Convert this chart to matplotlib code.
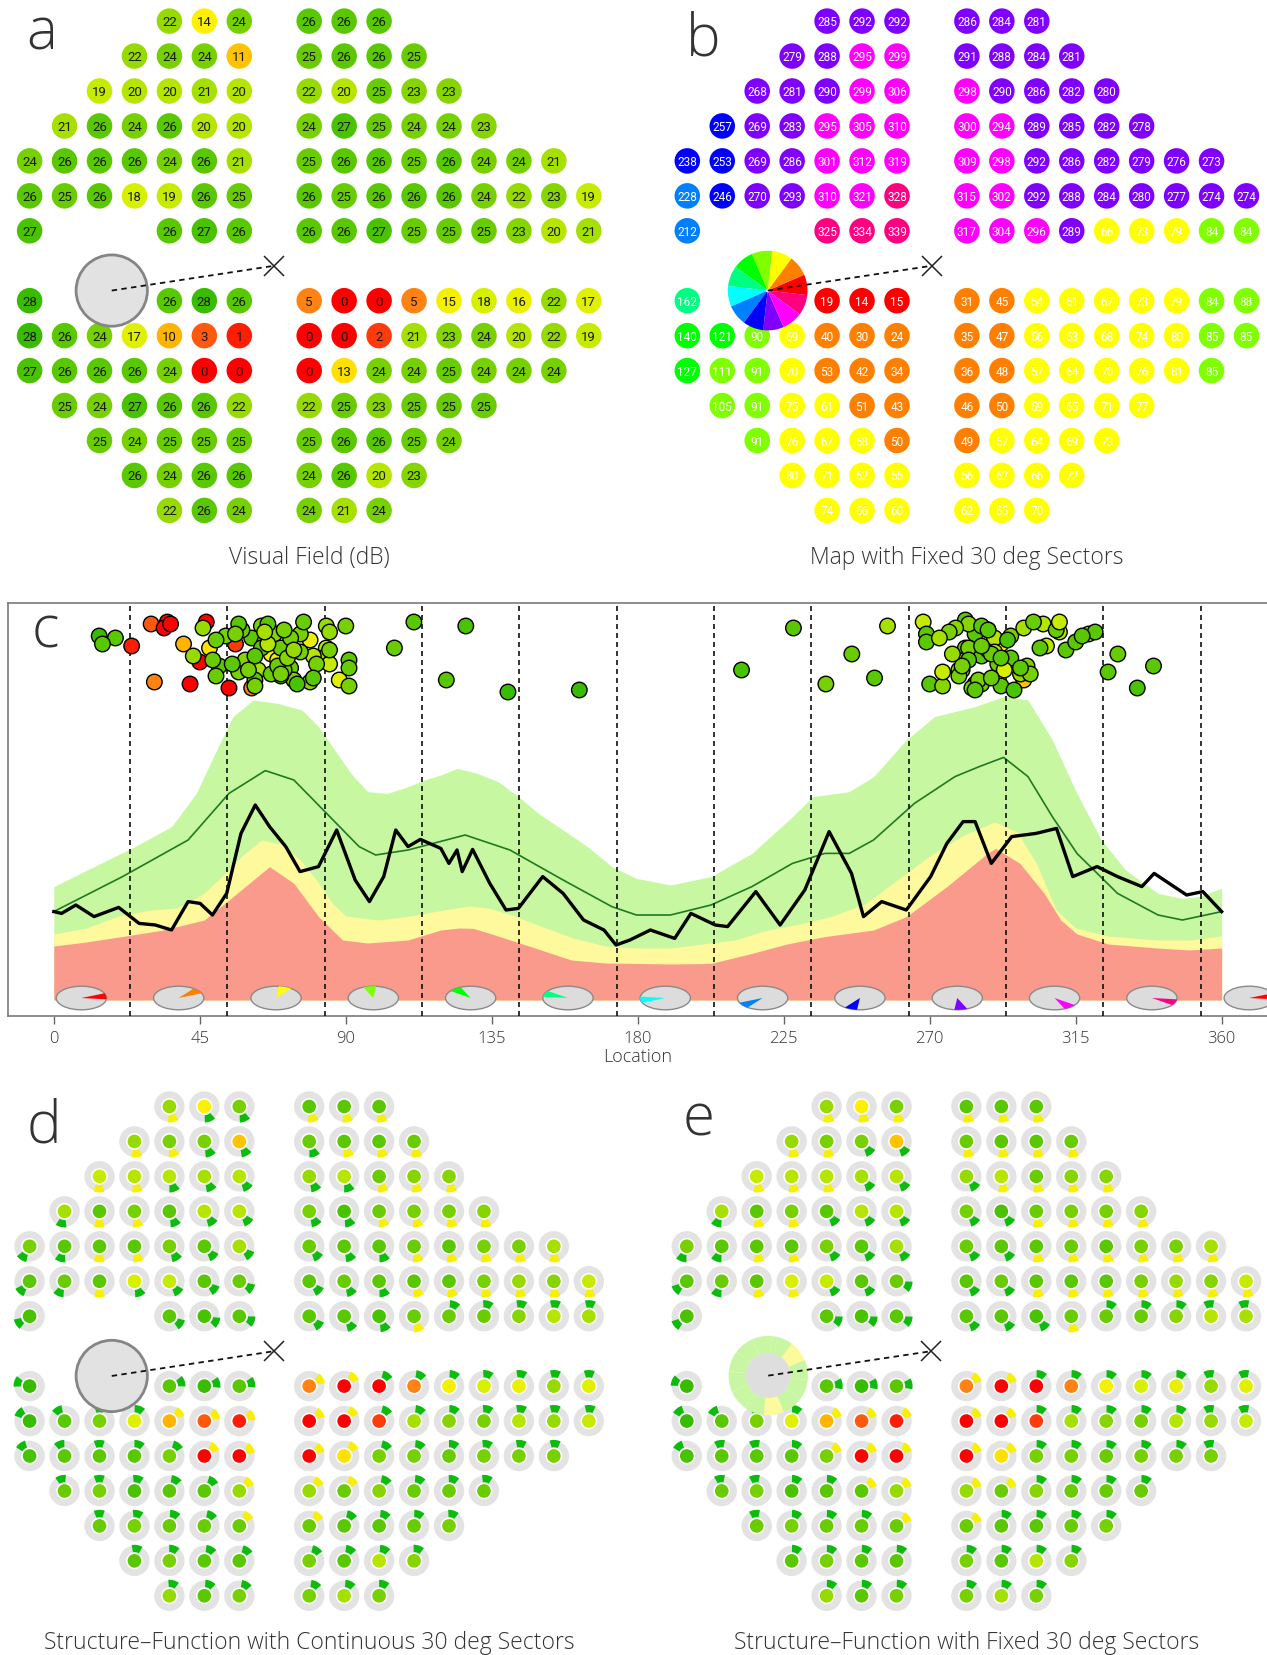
import numpy as np
import matplotlib.pyplot as plt
from matplotlib.colors import LinearSegmentedColormap, hsv_to_rgb
from matplotlib.patches import Circle, Wedge, Ellipse, Polygon

plt.rcParams['font.family'] = ['Open Sans', 'DejaVu Sans']
plt.rcParams['font.weight'] = 'light'
NUM_FONT = ['Roboto', 'DejaVu Sans']

W, H = 1267, 1655
STEP = 34.95          # px between neighbouring test locations
DEG = 3.244           # px per degree on the location axis

# ---------------- visual field test grid ----------------
# columns present in each row (column 7 and row 7 are the meridians)
grid_rows = [0, 1, 2, 3, 4, 5, 6, 8, 9, 10, 11, 12, 13, 14]
grid_cols = [
    [4, 5, 6, 8, 9, 10],
    [3, 4, 5, 6, 8, 9, 10, 11],
    [2, 3, 4, 5, 6, 8, 9, 10, 11, 12],
    [1, 2, 3, 4, 5, 6, 8, 9, 10, 11, 12, 13],
    [0, 1, 2, 3, 4, 5, 6, 8, 9, 10, 11, 12, 13, 14, 15],
    [0, 1, 2, 3, 4, 5, 6, 8, 9, 10, 11, 12, 13, 14, 15, 16],
    [0, 4, 5, 6, 8, 9, 10, 11, 12, 13, 14, 15, 16],
    [0, 4, 5, 6, 8, 9, 10, 11, 12, 13, 14, 15, 16],
    [0, 1, 2, 3, 4, 5, 6, 8, 9, 10, 11, 12, 13, 14, 15, 16],
    [0, 1, 2, 3, 4, 5, 6, 8, 9, 10, 11, 12, 13, 14, 15],
    [1, 2, 3, 4, 5, 6, 8, 9, 10, 11, 12, 13],
    [2, 3, 4, 5, 6, 8, 9, 10, 11, 12],
    [3, 4, 5, 6, 8, 9, 10, 11],
    [4, 5, 6, 8, 9, 10],
]

# sensitivity (dB) per row
sensitivity_db = [
    [22, 14, 24, 26, 26, 26],
    [22, 24, 24, 11, 25, 26, 26, 25],
    [19, 20, 20, 21, 20, 22, 20, 25, 23, 23],
    [21, 26, 24, 26, 20, 20, 24, 27, 25, 24, 24, 23],
    [24, 26, 26, 26, 24, 26, 21, 25, 26, 26, 25, 26, 24, 24, 21],
    [26, 25, 26, 18, 19, 26, 25, 26, 25, 26, 26, 26, 24, 22, 23, 19],
    [27, 26, 27, 26, 26, 26, 27, 25, 25, 25, 23, 20, 21],
    [28, 26, 28, 26, 5, 0, 0, 5, 15, 18, 16, 22, 17],
    [28, 26, 24, 17, 10, 3, 1, 0, 0, 2, 21, 23, 24, 20, 22, 19],
    [27, 26, 26, 26, 24, 0, 0, 0, 13, 24, 24, 25, 24, 24, 24],
    [25, 24, 27, 26, 26, 22, 22, 25, 23, 25, 25, 25],
    [25, 24, 25, 25, 25, 25, 26, 26, 25, 24],
    [26, 24, 26, 26, 24, 26, 20, 23],
    [22, 26, 24, 24, 21, 24],
]

# optic disc angle (deg) mapped to each location
location_angle = [
    [285, 292, 292, 286, 284, 281],
    [279, 288, 295, 299, 291, 288, 284, 281],
    [268, 281, 290, 299, 306, 298, 290, 286, 282, 280],
    [257, 269, 283, 295, 305, 310, 300, 294, 289, 285, 282, 278],
    [238, 253, 269, 286, 301, 312, 319, 309, 298, 292, 286, 282, 279, 276, 273],
    [228, 246, 270, 293, 310, 321, 328, 315, 302, 292, 288, 284, 280, 277, 274, 274],
    [212, 325, 334, 339, 317, 304, 296, 289, 66, 73, 79, 84, 84],
    [162, 19, 14, 15, 31, 45, 54, 61, 67, 73, 79, 84, 88],
    [140, 121, 90, 69, 40, 30, 24, 35, 47, 56, 63, 68, 74, 80, 85, 85],
    [127, 111, 91, 70, 53, 42, 34, 36, 48, 57, 64, 70, 76, 81, 85],
    [105, 91, 75, 61, 51, 43, 46, 50, 59, 65, 71, 77],
    [91, 76, 67, 58, 50, 49, 57, 64, 69, 73],
    [80, 71, 62, 55, 56, 62, 66, 72],
    [74, 66, 60, 62, 65, 70],
]

# vertical spread of the points in the location strip
strip_offset = [
    [186, 178, 170, 172, 183, 190],
    [165, 175, 182, 160, 168, 185, 158, 176],
    [189, 170, 181, 186, 177, 163, 174, 158, 188, 165],
    [187, 183, 156, 171, 188, 184, 167, 180, 173, 160, 176, 186],
    [158, 161, 179, 187, 163, 175, 183, 185, 166, 157, 177, 170, 162, 184, 181],
    [186, 173, 158, 165, 189, 184, 173, 179, 189, 171, 185, 155, 167, 173, 157, 164],
    [165, 164, 156, 167, 182, 176, 155, 161, 187, 166, 159, 176, 172],
    [155, 181, 182, 178, 159, 169, 156, 156, 173, 177, 180, 187, 160],
    [154, 160, 187, 170, 178, 188, 177, 189, 189, 178, 165, 183, 160, 172, 184, 168],
    [187, 189, 170, 162, 182, 158, 186, 188, 176, 164, 187, 176, 183, 168, 175],
    [176, 157, 158, 181, 167, 172, 186, 162, 170, 179, 165, 189],
    [166, 174, 163, 185, 180, 170, 188, 176, 167, 181],
    [161, 185, 172, 168, 183, 160, 178, 171],
    [175, 188, 165, 157, 184, 163],
]

# structure status in a continuous 30 deg window (G normal, Y borderline)
continuous_status = [
    "YGGYYY", "YYGGGYYY", "YYGGGGGYYY", "GYYGGGGGYYYY", "GGYYGGGGGGYYYYY",
    "GGYGGGGGGGYYYYYY", "GGGGGGGYGGGGG", "GGGGYYGGGGGGG", "GGGGYYYYYGGGGGGG",
    "GGGGGYYYYGGGGGG", "GGGGGYYYGGGG", "GGGGYYGGGG", "GGGGGGGG", "GGGGGG",
]

# status of the twelve fixed sectors (sector k centred on 8.5 + 30k deg)
sector_status = ['G', 'Y', 'G', 'G', 'G', 'G', 'G', 'G', 'G', 'Y', 'G', 'G']

# ---------------- RNFL profile along the disc ----------------
upper_x = [0, 12.4, 25, 36.3, 43.9, 50.2, 55.2, 61.5, 69, 76.5, 81.6, 86.6, 91.6, 96.7,
           102.9, 109.2, 114.3, 119.3, 124.3, 130.6, 136.9, 143.2, 149.4, 157, 164.5,
           172, 179.6, 190.1, 202.6, 215.2, 227.7, 234, 245.2, 252.7, 262.8, 271.5,
           284, 292.8, 300.3, 307.8, 315.4, 322.9, 330.4, 340.4, 347.9, 352.9, 360]
upper_y = [56.7, 66.7, 76.7, 86.7, 103.3, 125, 141.7, 150, 148.3, 145, 136.7, 125,
           113.3, 104.2, 103.3, 106.7, 110, 112.5, 115.8, 113.3, 109.2, 101.7, 93.3,
           85, 76.7, 66.7, 60.8, 57.5, 61.7, 73.3, 91.7, 101.7, 104.2, 111.7, 130,
           141.7, 146.7, 151.7, 150, 130, 103.3, 80, 65, 53.3, 50.8, 51.7, 55.8]

border_x = [0, 10, 20, 30, 38, 46, 52, 58, 64, 70, 76, 81, 86, 90, 100, 110, 120, 128,
            134, 142, 150, 160, 170, 180, 190, 200, 210, 220, 230, 240, 250, 260, 270,
            280, 290, 297, 303, 309, 315, 325, 340, 350, 360]
border_y = [33, 36, 42, 45, 46, 53, 62, 72, 80, 78, 70, 60, 48, 42, 40, 42, 45, 47,
            46, 42, 37, 31, 27, 26, 26, 28, 30, 35, 38, 42, 48, 60, 72, 82, 89, 84,
            68, 45, 36, 32, 30, 30, 32]

lower_x = [0, 10, 21, 33.8, 46.4, 54, 61.5, 66.5, 74, 81.6, 89, 96.7, 109.2, 119.3,
           125, 129.3, 134.4, 147, 159.5, 170, 179.6, 190, 202.6, 215.2, 226, 237.7,
           252.7, 262.8, 275.3, 287.8, 290.3, 297.8, 305.3, 310.4, 315.4, 325, 340,
           350, 360]
lower_y = [27, 29, 31.7, 35, 40, 50, 60, 66.7, 58.3, 41.7, 30, 28.5, 30, 35, 36,
           35.8, 33.3, 26.7, 20, 18.5, 18.3, 18, 18.3, 23.3, 28, 31.7, 35, 41.7, 56.7,
           73.3, 75.8, 68.3, 53.3, 40, 33, 28, 26, 25, 26]

median_x = [0, 21.2, 41.4, 54, 65.2, 74, 84.1, 94.1, 99.2, 109.2, 126.8, 140.6, 157,
            172, 179.6, 190.1, 202.6, 215.2, 227.7, 237.7, 245.2, 252.7, 265.3, 277.8,
            285.3, 292.8, 300.3, 307.8, 315.4, 327.9, 340.4, 347.9, 360]
median_y = [44.2, 61.7, 80, 103.3, 114.7, 110, 93.3, 76.7, 72.5, 75, 82.5, 75, 60,
            46.7, 42.5, 42.5, 47.5, 56.7, 68.3, 73.3, 73.3, 80, 98.3, 111.7, 116.7,
            121.3, 111.7, 91.7, 73.3, 53.3, 42.5, 40, 44.2]

patient_x = [0, 2.4, 6.8, 12.4, 20, 26.3, 31.3, 36.3, 41.4, 45.1, 48.9, 53.3, 57.7,
             62.1, 66.5, 71.5, 75.9, 81.6, 87.2, 92.9, 97.3, 101.7, 105.4, 109.2, 113,
             119.3, 121.8, 124.3, 125.9, 129.1, 134.4, 139.4, 143.2, 150.7, 157,
             163.3, 169.6, 173.3, 177.6, 183.9, 191.4, 196.4, 203.9, 207.7, 216.4,
             223.9, 231.5, 239, 245.9, 249.6, 255.2, 262.8, 270.3, 275.3, 280.3, 284,
             289, 295.3, 302.8, 309.1, 314.1, 321.6, 327.9, 335.4, 339.2, 349.2,
             354.2, 360]
patient_y = [44.2, 43.3, 47.5, 41.7, 46.3, 38.3, 37.5, 35, 49.2, 48.3, 42.5, 53.3,
             83.3, 97.5, 86.7, 76.7, 64.2, 66.7, 85, 60, 49.2, 61.7, 85, 76.7, 80.3,
             75.8, 68.3, 75, 64.2, 75.3, 58.3, 45, 45.8, 61.7, 53.3, 40, 35, 27.5, 30,
             35, 30.8, 43.3, 37.5, 36.7, 54.2, 37.5, 55, 84.2, 63.3, 41.7, 49.2, 45,
             61.7, 78.3, 89.2, 89.2, 68.3, 81.7, 83.3, 85.8, 61.7, 66.7, 61.7, 56.7,
             63.3, 52.5, 54.2, 44.2]

loc_ticks = [0, 45, 90, 135, 180, 225, 270, 315, 360]

# ---------------- styling ----------------
db_cmap = LinearSegmentedColormap.from_list('db', [
    (0 / 28, '#ff0000'), (3 / 28, '#ff5a10'), (5 / 28, '#ff8414'),
    (10 / 28, '#ffb400'), (14 / 28, '#fff000'), (18 / 28, '#d6f000'),
    (21 / 28, '#a6e000'), (24 / 28, '#78d000'), (26 / 28, '#5ac800'),
    (28 / 28, '#38bc00')])


def db_color(v):
    return db_cmap(min(v, 28) / 28)


def sector_of(angle):
    return (int(((angle - 23.5) % 360) // 30) + 1) % 12


def sector_color(k):
    return hsv_to_rgb([k / 12, 1.0, 1.0])


status_col = {'G': '#0cbc0c', 'Y': '#f7f000'}
ring_col = {'G': '#c8f6a2', 'Y': '#fdfa9c'}
TXT = '#333333'

fig = plt.figure(figsize=(W / 100, H / 100), dpi=100)


def grid_axes(left, top, right, bottom, col0, row0):
    ax = fig.add_axes([left / W, 1 - bottom / H, (right - left) / W, (bottom - top) / H])
    ax.set_xlim((left - col0) / STEP, (right - col0) / STEP)
    ax.set_ylim((bottom - row0) / STEP, (top - row0) / STEP)
    ax.axis('off')
    return ax


def points():
    for r, cols in enumerate(grid_cols):
        for i, c in enumerate(cols):
            yield r, i, c, grid_rows[r]


def fixation(ax, x0, y0):
    ax.plot([x0, 7], [y0, 7], ls=(0, (3, 2.4)), color='#111111', lw=1.3, zorder=6)
    ax.plot(7, 7, marker='x', ms=14, mew=1.1, color='#222222', zorder=6)


def panel_title(ax, text):
    ax.text(8, 15.35, text, fontsize=16.5, color=TXT, ha='center', va='center')


BS = (2.35, 7.71)

# ---- a: visual field sensitivities
ax_a = grid_axes(0, 0, 633, 575, 29.6, 21.1)
for r, i, c, row in points():
    v = sensitivity_db[r][i]
    ax_a.add_patch(Circle((c, row), 0.365, fc=db_color(v), ec='none'))
    ax_a.text(c, row, str(v), ha='center', va='center_baseline', fontsize=9.5,
              color='#1a1a1a', family=NUM_FONT, weight='normal')
ax_a.add_patch(Circle(BS, 1.02, fc='#e2e2e2', ec='#858585', lw=2, zorder=5))
fixation(ax_a, *BS)
ax_a.text(-0.09, 0.82, 'a', fontsize=42, color=TXT, ha='left', va='baseline')
panel_title(ax_a, 'Visual Field (dB)')

# ---- b: sector map
ax_b = grid_axes(633, 0, 1267, 575, 687.3, 21.1)
for r, i, c, row in points():
    a = location_angle[r][i]
    ax_b.add_patch(Circle((c, row), 0.365, fc=sector_color(sector_of(a)), ec='none'))
    ax_b.text(c, row, str(a), ha='center', va='center_baseline', fontsize=8.5,
              color='white', family=NUM_FONT, weight='normal')
wheel = (2.3, 7.71)
for k in range(12):
    mid = 8.5 + 30 * k
    ax_b.add_patch(Wedge(wheel, 1.14, -(mid + 15), -(mid - 15), fc=sector_color(k),
                         ec='none', zorder=5))
ax_b.add_patch(Circle(wheel, 0.05, fc='white', ec='none', zorder=6))
fixation(ax_b, *wheel)
ax_b.text(-0.04, 0.97, 'b', fontsize=42, color=TXT, ha='left', va='baseline')
panel_title(ax_b, 'Map with Fixed 30 deg Sectors')

# ---- c: thickness profile along the disc
c_left, c_top, c_right, c_bottom = 8.4, 603, 1293, 1016
ax_c = fig.add_axes([c_left / W, 1 - c_bottom / H, (c_right - c_left) / W,
                     (c_bottom - c_top) / H])
ax_c.set_xlim((c_left - 53.8) / DEG, (c_right - 53.8) / DEG)
ax_c.set_ylim(-8, 198.5)
ax_c.fill_between(upper_x, 0, upper_y, color='#c8f7a2', lw=0, zorder=1)
ax_c.fill_between(border_x, 0, border_y, color='#fdf99c', lw=0, zorder=1.1)
ax_c.fill_between(lower_x, 0, lower_y, color='#f99a8c', lw=0, zorder=1.2)
ax_c.plot(median_x, median_y, color='#1f7a1f', lw=1.2, zorder=3)
ax_c.plot(patient_x, patient_y, color='black', lw=2.4, zorder=3)
for k in range(12):
    ax_c.axvline(23.5 + 30 * k, color='#111111', lw=1.2, ls=(0, (3, 2.4)), zorder=3.5)
ex, ey = 7.75, 5.9
for k in range(13):
    mid = 8.5 + 30 * k
    ax_c.add_patch(Ellipse((mid, 1.0), 2 * ex, 2 * ey, fc='#dcdcdc', ec='#8a8a8a',
                           lw=1.0, zorder=4))
    t = np.radians(np.linspace(mid - 15, mid + 15, 16))
    pts = np.column_stack([mid + ex * np.cos(t), 1.0 + ey * np.sin(t)])
    pts = np.vstack([[mid, 1.0], pts])
    ax_c.add_patch(Polygon(pts, closed=True, fc=sector_color(k % 12), ec='none',
                           zorder=4.5))
sx, sy, sc = [], [], []
for r, i, c, row in points():
    sx.append(location_angle[r][i])
    sy.append(strip_offset[r][i])
    sc.append(db_color(sensitivity_db[r][i]))
ax_c.scatter(sx, sy, s=125, c=sc, edgecolors='black', linewidths=1.0, zorder=5)
ax_c.set_xticks(loc_ticks)
ax_c.set_xticklabels([str(t) for t in loc_ticks])
ax_c.set_yticks([])
ax_c.tick_params(axis='x', direction='out', length=5.5, width=1, color='#666666',
                 labelsize=12, labelcolor=TXT, pad=5)
for s in ax_c.spines.values():
    s.set_color('#7a7a7a')
    s.set_linewidth(1.2)
ax_c.text(180, -0.10, 'Location', transform=ax_c.get_xaxis_transform(), ha='center',
          va='center', fontsize=13, color=TXT)
ax_c.text(-6.8, 176.5, 'c', fontsize=42, color=TXT, ha='left', va='baseline', zorder=6)


# ---- d / e: structure-function glyphs
def glyph(ax, c, row, v, direction, status):
    ax.add_patch(Circle((c, row), 0.435, fc='#e3e3e3', ec='none'))
    ax.add_patch(Circle((c, row), 0.24, fc='white', ec='none'))
    ax.add_patch(Circle((c, row), 0.195, fc=db_color(v), ec='none'))
    ax.add_patch(Wedge((c, row), 0.46, -(direction + 20), -(direction - 20), width=0.21,
                       fc=status_col[status], ec='none'))


ax_d = grid_axes(0, 1075, 633, 1655, 29.6, 1106.5)
for r, i, c, row in points():
    glyph(ax_d, c, row, sensitivity_db[r][i], location_angle[r][i],
          continuous_status[r][i])
ax_d.add_patch(Circle(BS, 1.02, fc='#e2e2e2', ec='#858585', lw=2, zorder=5))
fixation(ax_d, *BS)
ax_d.text(-0.09, 1.03, 'd', fontsize=42, color=TXT, ha='left', va='baseline')
panel_title(ax_d, 'Structure\u2013Function with Continuous 30 deg Sectors')

ax_e = grid_axes(633, 1075, 1267, 1655, 686.8, 1106.5)
for r, i, c, row in points():
    k = sector_of(location_angle[r][i])
    glyph(ax_e, c, row, sensitivity_db[r][i], 8.5 + 30 * k, sector_status[k])
ring = (2.33, 7.7)
for k in range(12):
    mid = 8.5 + 30 * k
    ax_e.add_patch(Wedge(ring, 1.135, -(mid + 15), -(mid - 15), width=0.5,
                         fc=ring_col[sector_status[k]], ec='none', zorder=5))
ax_e.add_patch(Circle(ring, 0.64, fc='#dedede', ec='none', zorder=5))
fixation(ax_e, *ring)
ax_e.text(-0.11, 0.82, 'e', fontsize=42, color=TXT, ha='left', va='baseline')
panel_title(ax_e, 'Structure\u2013Function with Fixed 30 deg Sectors')

fig.savefig('out.png', dpi=100)
